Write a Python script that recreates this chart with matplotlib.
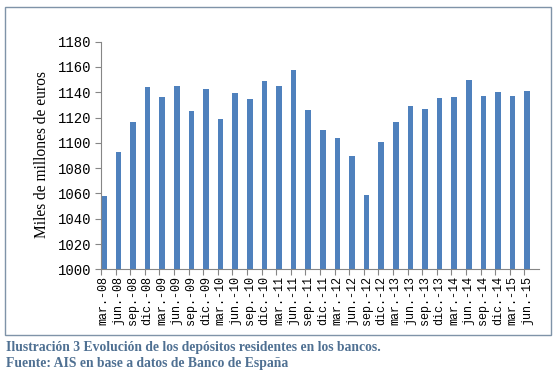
import matplotlib
matplotlib.use("Agg")
import matplotlib.pyplot as plt
from matplotlib.patches import Rectangle
import numpy as np

categories = ["mar.-08", "jun.-08", "sep.-08", "dic.-08",
              "mar.-09", "jun.-09", "sep.-09", "dic.-09",
              "mar.-10", "jun.-10", "sep.-10", "dic.-10",
              "mar.-11", "jun.-11", "sep.-11", "dic.-11",
              "mar.-12", "jun.-12", "sep.-12", "dic.-12",
              "mar.-13", "jun.-13", "sep.-13", "dic.-13",
              "mar.-14", "jun.-14", "sep.-14", "dic.-14",
              "mar.-15", "jun.-15"]
depositos = [1058, 1093, 1116.5, 1144,
             1136, 1145, 1125, 1142.5,
             1119, 1139.5, 1134.5, 1149,
             1145, 1157.5, 1126, 1110,
             1104, 1089.5, 1059, 1100.5,
             1116.5, 1129, 1127, 1135.5,
             1136, 1149.5, 1137, 1140,
             1137, 1141]
yticks = [1000, 1020, 1040, 1060, 1080, 1100, 1120, 1140, 1160, 1180]

W, H = 558, 373
fig = plt.figure(figsize=(W / 100, H / 100), dpi=100)
ax = fig.add_axes([101 / W, (H - 269.3) / H, 438 / W, 227.6 / H])

x = np.arange(len(categories))
bw = 0.38
ax.bar(x, depositos, width=bw, align="edge", color="#4f81bd", zorder=2)

ax.set_xlim(0, len(categories))
ax.set_ylim(1000, 1180)

axis_col = "#868686"
for s in ["top", "right"]:
    ax.spines[s].set_visible(False)
for s in ["left", "bottom"]:
    ax.spines[s].set_color(axis_col)
    ax.spines[s].set_linewidth(0.8)

ax.set_yticks(yticks)
ax.set_yticklabels([str(v) for v in yticks], fontfamily="Liberation Mono", fontsize=10)
ax.tick_params(axis="y", direction="out", length=4, color=axis_col, pad=3)

ax.set_xticks(x)
ax.set_xticklabels([])
ax.tick_params(axis="x", which="major", direction="out", length=4, color=axis_col)
ax.set_xticks(x + bw / 2, minor=True)
ax.set_xticklabels(categories, minor=True, rotation=90, fontfamily="Liberation Mono",
                   fontsize=8.5)
ax.tick_params(axis="x", which="minor", length=0, pad=5)

fig.text(42 / W, 1 - 155 / H, "Miles de millones de euros", rotation=90,
         ha="center", va="center", fontfamily="Liberation Serif", fontsize=11.2)

fig.patches.append(Rectangle((5 / W, (H - 335) / H), 546 / W, 328 / H,
                             transform=fig.transFigure, fill=False,
                             edgecolor="#7f93a8", linewidth=1.0))

cap_col = "#4f7092"
fig.text(6 / W, 1 - 348 / H,
         "Ilustración 3 Evolución de los depósitos residentes en los bancos.",
         ha="left", va="center", fontfamily="Liberation Serif", fontweight="bold",
         fontsize=9.8, color=cap_col)
fig.text(6 / W, 1 - 364 / H,
         "Fuente: AIS en base a datos de Banco de España",
         ha="left", va="center", fontfamily="Liberation Serif", fontweight="bold",
         fontsize=9.8, color=cap_col)

fig.savefig("out.png", dpi=100)
